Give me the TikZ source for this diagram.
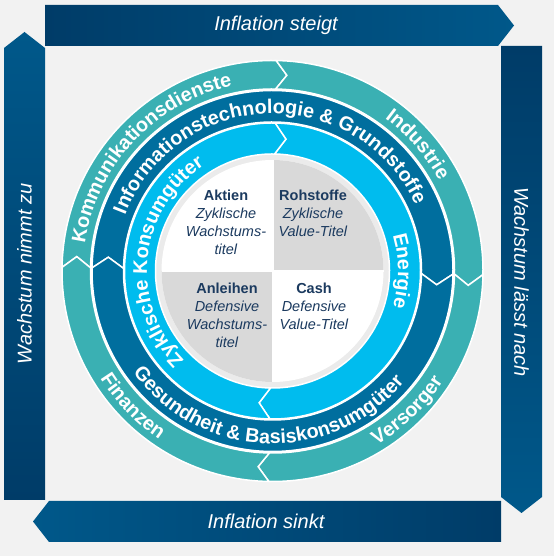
\documentclass[tikz,border=0pt]{standalone}
\usepackage{fontspec}
\setmainfont{Liberation Sans}
\usetikzlibrary{decorations.text}
\definecolor{bg}{HTML}{F2F2F2}
\definecolor{tealring}{HTML}{3AB0B3}
\definecolor{bluering}{HTML}{006E9E}
\definecolor{cyanring}{HTML}{00BCEE}
\definecolor{navyD}{HTML}{003C68}
\definecolor{navyL}{HTML}{00588A}
\definecolor{qgray}{HTML}{D9D9D9}
\definecolor{ringgray}{HTML}{EBEBEB}
\definecolor{txtnavy}{HTML}{1B3A5F}
\newcommand{\ringfont}{\color{white}\bfseries\fontsize{19.8}{20}\selectfont}
\newcommand{\ringseg}[6]{%
  \filldraw[fill=#1, draw=white, line width=1.5, line join=miter]
    (#2:#5) arc[start angle=#2, end angle=#3, radius=#5]
    -- ({#3-#6}:{(#4+#5)/2}) -- (#3:#4)
    arc[start angle=#3, end angle=#2, radius=#4]
    -- ({#2-#6}:{(#4+#5)/2}) -- cycle;}
\tikzset{
  arrowtxt/.style={text=white, inner sep=0pt, font=\itshape\fontsize{20}{24}\selectfont},
  quadtxt/.style={text=txtnavy, inner sep=0pt, anchor=north, align=center, font=\fontsize{14.5}{18}\selectfont},
  ringtext/.style={decorate, decoration={text along path, text align=center, text={|\ringfont|#1}}}
}
\begin{document}
\begin{tikzpicture}[x=1pt,y=1pt]
\useasboundingbox (0,0) rectangle (554,556);
\fill[bg] (0,0) rectangle (554,556);
% outer arrows
\shade[left color=navyD, right color=navyL] (45,510) -- (498,510) -- (514,530.5) -- (498,551) -- (45,551) -- cycle;
\shade[top color=navyD, bottom color=navyL] (501,510) -- (542,510) -- (542,59) -- (521.5,43) -- (501,59) -- cycle;
\shade[left color=navyL, right color=navyD] (501,55) -- (49,55) -- (33,34.5) -- (49,14) -- (501,14) -- cycle;
\shade[top color=navyL, bottom color=navyD] (4,56) -- (4,508) -- (24.5,524) -- (45,508) -- (45,56) -- cycle;
\node[arrowtxt] (tup) at (276,530.5) {Inflation steigt};
\node[arrowtxt] (tdown) at (266,34.5) {Inflation sinkt};
\node[arrowtxt, rotate=90] (tleft) at (24.5,282) {Wachstum nimmt zu};
\node[arrowtxt, rotate=-90] (tright) at (521.5,274) {Wachstum lässt nach};
% rings
\begin{scope}[shift={(272.5,285)}]
\fill[white] (0,0) circle (210.5);
\fill[ringgray] (0,0) circle (117);
\ringseg{tealring}{179}{89}{182}{210.5}{3.2}
\ringseg{tealring}{89}{-1}{182}{210.5}{3.2}
\ringseg{tealring}{-1}{-91}{182}{210.5}{3.2}
\ringseg{tealring}{-91}{-181}{182}{210.5}{3.2}
\ringseg{bluering}{179}{-1}{149}{180.5}{3.8}
\ringseg{bluering}{-1}{-181}{149}{180.5}{3.8}
\ringseg{cyanring}{89}{-91}{117}{148}{4.8}
\ringseg{cyanring}{269}{89}{117}{148}{4.8}
% inner quadrants
\fill[white] (0,0) circle (111);
\fill[qgray] (0,0) -- (0:111) arc[start angle=0, end angle=90, radius=111] -- cycle;
\fill[qgray] (0,0) -- (180:111) arc[start angle=180, end angle=270, radius=111] -- cycle;
\draw[white, line width=2] (-111,0) -- (111,0) (0,-111) -- (0,111);
% ring texts
\path[ringtext={Kommunikationsdienste}] (195:189.5) arc[start angle=195, end angle=79, radius=189.5];
\path[ringtext={Industrie}] (81:189.5) arc[start angle=81, end angle=1, radius=189.5];
\path[ringtext={Versorger}] (274:203) arc[start angle=274, end angle=354, radius=203];
\path[ringtext={Finanzen}] (184:203) arc[start angle=184, end angle=264, radius=203];
\path[ringtext={Informationstechnologie {\&} Grundstoffe}] (179:157.5) arc[start angle=179, end angle=5, radius=157.5];
\path[ringtext={Gesundheit {\&} Basiskonsumgüter}] (186:172.5) arc[start angle=186, end angle=350, radius=172.5];
\path[ringtext={Zyklische Konsumgüter}] (254:125.5) arc[start angle=254, end angle=94, radius=125.5];
\path[ringtext={Energie}] (40:125.5) arc[start angle=40, end angle=-40, radius=125.5];
\end{scope}
% quadrant texts
\node[quadtxt] (qa) at (226,366) {\textbf{Aktien}\\\textit{Zyklische}\\\textit{Wachstums-}\\\textit{titel}};
\node[quadtxt] (qr) at (313,366) {\textbf{Rohstoffe}\\\textit{Zyklische}\\\textit{Value-Titel}};
\node[quadtxt] (qan) at (227,273) {\textbf{Anleihen}\\\textit{Defensive}\\\textit{Wachstums-}\\\textit{titel}};
\node[quadtxt] (qc) at (314,273) {\textbf{Cash}\\\textit{Defensive}\\\textit{Value-Titel}};
\end{tikzpicture}
\end{document}
